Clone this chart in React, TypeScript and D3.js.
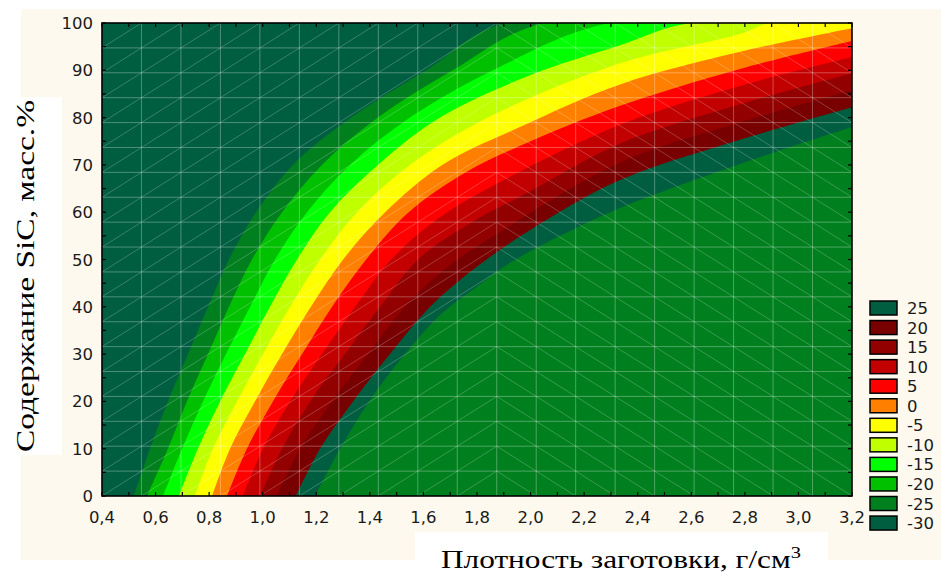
import React from 'react';
import * as d3 from 'd3';

// ---- axis data ----
const xTickValues = [0.4, 0.6, 0.8, 1.0, 1.2, 1.4, 1.6, 1.8, 2.0, 2.2, 2.4, 2.6, 2.8, 3.0, 3.2];
const xTickLabels = ['0,4', '0,6', '0,8', '1,0', '1,2', '1,4', '1,6', '1,8', '2,0', '2,2', '2,4', '2,6', '2,8', '3,0', '3,2'];
const yTickValues = [0, 10, 20, 30, 40, 50, 60, 70, 80, 90, 100];

// ---- legend ----
const legendLabels = ['25', '20', '15', '10', '5', '0', '-5', '-10', '-15', '-20', '-25', '-30'];
const legendColors = ['#005E40', '#780000', '#920000', '#C20000', '#FF0000', '#FF8000', '#FFFF00', '#C0FF00', '#00FF00', '#00C000', '#007F1F', '#005E40'];

// colours of regions from upper-left to lower-right
const bandColors = ['#005E40', '#007F1F', '#00C000', '#00FF00', '#C0FF00', '#FFFF00', '#FF8000', '#FF0000', '#C20000', '#920000', '#780000', '#005E40', '#007F1F'];

// ---- contour boundaries [density, SiC%] ----
const b1 = [[0.519, 0], [0.579, 10], [0.646, 20], [0.721, 30], [0.796, 40], [0.874, 50], [0.975, 60], [1.113, 70], [1.330, 80], [1.610, 90], [1.905, 100]];
const b2 = [[0.568, 0], [0.646, 10], [0.717, 20], [0.796, 30], [0.874, 40], [0.960, 50], [1.072, 60], [1.221, 70], [1.430, 80], [1.710, 90], [2.050, 100]];
const b3 = [[0.628, 0], [0.699, 10], [0.777, 20], [0.863, 30], [0.953, 40], [1.046, 50], [1.165, 60], [1.326, 70], [1.550, 80], [1.860, 90], [2.297, 100]];
const b4 = [[0.687, 0], [0.758, 10], [0.841, 20], [0.934, 30], [1.027, 40], [1.128, 50], [1.251, 60], [1.430, 70], [1.662, 80], [2.000, 89.0], [2.334, 95.3], [2.595, 100]];
const b5 = [[0.747, 0], [0.814, 10], [0.904, 20], [1.001, 30], [1.102, 40], [1.214, 50], [1.352, 60], [1.550, 70], [1.840, 80], [2.334, 91.5], [2.782, 97.7], [2.894, 100]];
const b6 = [[0.811, 0], [0.878, 10], [0.971, 20], [1.072, 30], [1.180, 40], [1.300, 50], [1.457, 60], [1.670, 70], [1.960, 78], [2.334, 87.0], [2.782, 93.9], [3.2, 98.9]];
const b7 = [[0.867, 0], [0.941, 10], [1.038, 20], [1.147, 30], [1.259, 40], [1.386, 50], [1.545, 60], [1.760, 68.5], [2.000, 75.0], [2.334, 82.5], [2.782, 90.3], [3.2, 96.2]];
const b8 = [[0.926, 0], [1.001, 10], [1.102, 20], [1.221, 30], [1.345, 40], [1.479, 50], [1.650, 58.5], [1.886, 66.4], [2.334, 78.5], [2.782, 86.7], [3.2, 92.8]];
const b9 = [[0.990, 0], [1.072, 10], [1.177, 20], [1.307, 30], [1.438, 40], [1.580, 50], [1.760, 57.2], [2.000, 64.5], [2.334, 74.5], [2.782, 82.8], [3.2, 89.4]];
const b10 = [[1.053, 0], [1.139, 10], [1.259, 20], [1.393, 30], [1.531, 40], [1.692, 48.5], [1.886, 55.8], [2.334, 70.5], [2.782, 79.0], [3.2, 85.8]];
const b11 = [[1.124, 0], [1.214, 10], [1.337, 20], [1.475, 30], [1.625, 40], [1.800, 48.5], [2.000, 56.3], [2.334, 66.8], [2.782, 75.3], [3.2, 82.2]];
const b12 = [[1.195, 0], [1.289, 10], [1.397, 20], [1.531, 30], [1.663, 38.3], [1.793, 44.0], [1.924, 49.3], [2.110, 55.0], [2.334, 60.9], [2.782, 70.2], [3.2, 78.0]];
const boundaries = [b1, b2, b3, b4, b5, b6, b7, b8, b9, b10, b11, b12];

const meshCells = 19; // surface mesh cells per axis

export default function App() {
  const W = 941, H = 573;
  const L = 102, R = 852, T = 23, B = 496;
  const xDom: [number, number] = [0.4, 3.2];
  const yDom: [number, number] = [0, 100];
  const x = d3.scaleLinear().domain(xDom).range([L, R]);
  const y = d3.scaleLinear().domain(yDom).range([B, T]);

  const area = d3.area<number[]>()
    .x(d => x(d[0]))
    .y0(y(0))
    .y1(d => y(d[1]))
    .curve(d3.curveCatmullRom.alpha(0.5));

  const regionPaths = boundaries.map(b => {
    const last = b[b.length - 1];
    const pts = last[0] < xDom[1] ? [...b, [xDom[1], last[1]]] : b;
    return area(pts) || '';
  });

  // mesh
  const mx = d3.range(meshCells + 1).map(i => xDom[0] + (i * (xDom[1] - xDom[0])) / meshCells);
  const my = d3.range(meshCells + 1).map(i => yDom[0] + (i * (yDom[1] - yDom[0])) / meshCells);
  const diag: string[] = [];
  for (let i = 0; i < meshCells; i++) {
    for (let j = 0; j < meshCells; j++) {
      if (i < 10) diag.push(`M${x(mx[i])},${y(my[j])}L${x(mx[i + 1])},${y(my[j + 1])}`);
      else diag.push(`M${x(mx[i])},${y(my[j + 1])}L${x(mx[i + 1])},${y(my[j])}`);
    }
  }

  const xMinor = d3.range(0.4, 3.2001, 0.1);
  const yMinor = d3.range(0, 100.001, 5);
  const tickFont = '"DejaVu Sans", sans-serif';
  const titleFont = '"Liberation Serif", "Times New Roman", serif';

  return (
    <svg width={W} height={H} style={{ position: 'absolute', left: 0, top: 0 }} xmlns="http://www.w3.org/2000/svg">
      <defs>
        <clipPath id="plotClip">
          <rect x={L} y={T} width={R - L} height={B - T} />
        </clipPath>
      </defs>
      <rect x={0} y={0} width={W} height={H} fill="#ffffff" />
      <rect x={21} y={9} width={W - 21} height={560 - 9} fill="#FEF9EE" />
      <rect x={0} y={97} width={62} height={358} fill="#ffffff" />
      <rect x={415} y={532} width={413} height={H - 532} fill="#ffffff" />

      <g clipPath="url(#plotClip)">
        <rect x={L} y={T} width={R - L} height={B - T} fill={bandColors[0]} />
        {regionPaths.map((p, i) => (
          <path key={i} d={p} fill={bandColors[i + 1]} />
        ))}
        <g stroke="#ffffff" strokeOpacity={0.22} strokeWidth={1} fill="none">
          {diag.map((d, i) => <path key={i} d={d} />)}
        </g>
        <g stroke="#ffffff" strokeOpacity={0.3} strokeWidth={1}>
          {mx.slice(1, -1).map((v, i) => (
            <line key={'v' + i} x1={x(v)} x2={x(v)} y1={T} y2={B} />
          ))}
          {my.slice(1, -1).map((v, i) => (
            <line key={'h' + i} x1={L} x2={R} y1={y(v)} y2={y(v)} />
          ))}
        </g>
      </g>

      {/* ticks */}
      <g stroke="#000" strokeWidth={1.2}>
        {xMinor.map((v, i) => (
          <g key={'xt' + i}>
            <line x1={x(v)} x2={x(v)} y1={B} y2={B - 4} />
            <line x1={x(v)} x2={x(v)} y1={T} y2={T + 4} />
          </g>
        ))}
        {yMinor.map((v, i) => (
          <g key={'yt' + i}>
            <line x1={L} x2={L + 4} y1={y(v)} y2={y(v)} />
            <line x1={R} x2={R - 4} y1={y(v)} y2={y(v)} />
          </g>
        ))}
      </g>
      <rect x={L} y={T} width={R - L} height={B - T} fill="none" stroke="#000" strokeWidth={1.6} />

      {/* tick labels */}
      <g fontFamily={tickFont} fontSize={16.5} fill="#1a1a1a">
        {xTickValues.map((v, i) => (
          <text key={'xl' + i} x={x(v)} y={523} textAnchor="middle">{xTickLabels[i]}</text>
        ))}
        {yTickValues.map((v, i) => (
          <text key={'yl' + i} x={93} y={y(v) + 6} textAnchor="end">{v}</text>
        ))}
      </g>

      {/* axis titles */}
      <text x={621} y={568} fontFamily={titleFont} fontSize={26} fill="#000" textAnchor="middle"
        textLength={360} lengthAdjust="spacingAndGlyphs">
        Плотность заготовки, г/см<tspan dy={-10} fontSize={17}>3</tspan>
      </text>
      <text transform="translate(34,276) rotate(-90)" fontFamily={titleFont} fontSize={26} fill="#000"
        textAnchor="middle" textLength={352} lengthAdjust="spacingAndGlyphs">
        Содержание SiC, масс.%
      </text>

      {/* legend */}
      <g>
        {legendLabels.map((lab, i) => (
          <g key={'lg' + i} transform={`translate(870,${301 + i * 19.55})`}>
            <rect x={0} y={0} width={27} height={14} fill={legendColors[i]} stroke="#000" strokeWidth={1.5} />
            <text x={37} y={13} fontFamily={tickFont} fontSize={16.5} fill="#1a1a1a">{lab}</text>
          </g>
        ))}
      </g>
    </svg>
  );
}
